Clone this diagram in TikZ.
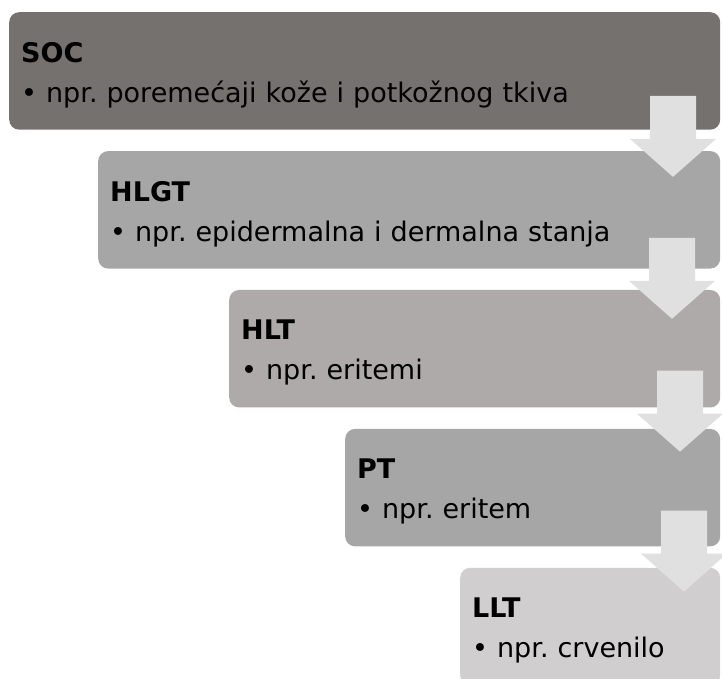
\documentclass[tikz,border=0pt]{standalone}
\usepackage{fontspec}
\setmainfont{DejaVu Sans}
\usepackage{tikz}
\definecolor{Levelsoc}{HTML}{75716F}
\definecolor{Levelhlgt}{HTML}{A6A6A6}
\definecolor{Levelhlt}{HTML}{ADAAA9}
\definecolor{Levelpt}{HTML}{A6A6A6}
\definecolor{Levelllt}{HTML}{D0CECF}
\definecolor{Arrowgray}{HTML}{E0E0E0}
\usetikzlibrary{positioning, calc}
\frenchspacing
\tikzstyle{level} = [
    rectangle, rounded corners=10pt,
    minimum height=117.5pt,
    inner xsep=12pt,
    text height=28pt,
    align=left,
    font=\fontsize{27}{40}\selectfont
]
\tikzstyle{socbox} = [
    level,
    text width=687pt,
    fill=Levelsoc
]
\tikzstyle{hlgtbox} = [
    level,
    text width=598pt,
    fill=Levelhlgt
]
\tikzstyle{hltbox} = [
    level,
    text width=467pt,
    fill=Levelhlt
]
\tikzstyle{ptbox} = [
    level,
    text width=351pt,
    fill=Levelpt
]
\tikzstyle{lltbox} = [
    level,
    text width=236pt,
    fill=Levelllt
]
\tikzstyle{downarrow} = [
    fill=Arrowgray
]

\begin{document}
\begin{tikzpicture}[x=1pt, y=1pt]

    \useasboundingbox (0,0) rectangle (722,679);

    \node (soc)   [socbox, anchor=north west] at (9,667)                       {\textbf{SOC}\\• npr. poremećaji kože i potkožnog tkiva};
    \node (hlgt)  [hlgtbox, below=21pt of soc.south east, anchor=north east]   {\textbf{HLGT}\\• npr. epidermalna i dermalna stanja};
    \node (hlt)   [hltbox, below=21pt of hlgt.south east, anchor=north east]   {\textbf{HLT}\\• npr. eritemi};
    \node (pt)    [ptbox, below=21pt of hlt.south east, anchor=north east]     {\textbf{PT}\\• npr. eritem};
    \node (llt)   [lltbox, below=21pt of pt.south east, anchor=north east]     {\textbf{LLT}\\• npr. crvenilo};

    % block arrows from each level down to the next
    \foreach \a/\cx/\dy in {soc/673/0, hlgt/672/3, hlt/680/-3, pt/684/-2}
        \fill [downarrow] let \p1 = (\a.south) in
            (\cx-23,\y1+34-\dy) -- (\cx+23,\y1+34-\dy) -- (\cx+23,\y1-9-\dy) -- (\cx+43,\y1-9-\dy)
            -- (\cx,\y1-47-\dy) -- (\cx-43,\y1-9-\dy) -- (\cx-23,\y1-9-\dy) -- cycle;

\end{tikzpicture}
\end{document}
